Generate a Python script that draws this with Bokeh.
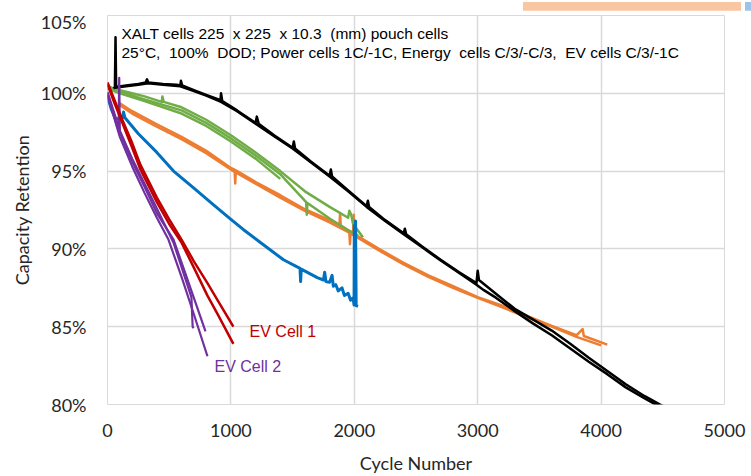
from bokeh.plotting import figure
from bokeh.models import Range1d, Label, PrintfTickFormatter, Div
from bokeh.layouts import column
from bokeh.embed import file_html
from bokeh.resources import INLINE

# ---------------- data (cycle number, capacity retention %) ----------------
black_a_x = [50, 60, 65, 70, 150, 250, 310, 320, 330, 450, 560, 590, 595, 605, 700, 800, 900, 915, 920, 930,
             1050, 1200, 1210, 1225, 1350, 1500, 1510, 1520, 1650, 1800, 1810, 1820, 1950, 2100, 2110, 2120,
             2250, 2400, 2410, 2420, 2550, 2700, 2850, 2990, 3000, 3010, 3150, 3300, 3450, 3600, 3750, 3900,
             4050, 4200, 4350, 4500, 4560]
black_a_y = [100.3, 100.4, 103.6, 100.4, 100.5, 100.6, 100.7, 100.9, 100.7, 100.6, 100.55, 100.5, 100.8, 100.5,
             100.2, 99.9, 99.6, 99.5, 100.0, 99.5, 98.9, 98.1, 98.5, 98.05, 97.3, 96.5, 96.9, 96.45, 95.6, 94.7,
             95.1, 94.65, 93.75, 92.75, 93.1, 92.7, 91.85, 91.0, 91.3, 90.95, 90.15, 89.3, 88.5, 87.8, 88.6, 88.0,
             87.1, 86.15, 85.45, 84.75, 83.9, 83.0, 82.15, 81.3, 80.55, 79.9, 79.6]
black_b_x = [60, 150, 250, 330, 450, 590, 700, 800, 920, 1050, 1200, 1350, 1500, 1650, 1800, 1950, 2100,
             2250, 2400, 2550, 2700, 2850, 2990, 3050, 3150, 3300, 3450, 3600, 3750, 3900, 4050, 4200, 4350,
             4500, 4560]
black_b_y = [100.35, 100.45, 100.55, 100.65, 100.55, 100.45, 100.15, 99.85, 99.45, 98.85, 98.05, 97.25, 96.45,
             95.55, 94.65, 93.7, 92.7, 91.8, 90.95, 90.1, 89.25, 88.45, 87.7, 87.35, 86.85, 86.0, 85.2, 84.45,
             83.6, 82.75, 81.95, 81.1, 80.4, 79.75, 79.5]

green1_x = [0, 100, 200, 300, 440, 445, 455, 600, 800, 1000, 1200, 1400, 1600, 1800, 1950, 1960, 1975, 1990,
            2070]
green1_y = [100.4, 100.2, 100.0, 99.8, 99.45, 99.8, 99.45, 99.1, 98.3, 97.3, 96.2, 95.0, 93.7, 92.7, 92.0,
            92.45, 92.2, 91.6, 90.75]
green2_x = [0, 100, 300, 600, 800, 1000, 1200, 1400, 1610, 1615, 1620, 1800, 1900, 1950, 2000, 2030]
green2_y = [100.5, 100.1, 99.6, 98.9, 98.1, 97.1, 96.0, 94.8, 93.0, 92.2, 92.95, 91.95, 91.45, 91.2, 91.0, 90.85]
green3_x = [0, 100, 300, 600, 800, 1000, 1200, 1400]
green3_y = [100.3, 100.0, 99.5, 98.7, 97.9, 96.9, 95.8, 94.5]

orange1_x = [90, 200, 400, 600, 800, 1000, 1030, 1035, 1040, 1200, 1400, 1600, 1800, 1880, 1885, 1890, 1990,
             1995, 2000, 2200, 2400, 2600, 2800, 3000, 3200, 3400, 3600, 3800, 3850, 3860, 4050]
orange1_y = [99.4, 98.85, 98.0, 97.2, 96.3, 95.2, 95.1, 94.2, 95.05, 94.3, 93.45, 92.55, 91.85, 91.55, 92.3,
             91.5, 91.0, 92.2, 90.95, 90.0, 89.1, 88.3, 87.6, 86.9, 86.35, 85.7, 85.05, 84.45, 84.85, 84.4, 83.85]
orange2_x = [90, 200, 400, 600, 800, 1000, 1200, 1400, 1600, 1800, 1960, 1965, 1970, 2000, 2200, 2400, 2600,
             2800, 3000, 3200, 3400, 3600, 3800, 4000]
orange2_y = [99.3, 98.7, 97.85, 97.05, 96.15, 95.1, 94.2, 93.3, 92.45, 91.7, 91.05, 90.3, 91.0, 90.85, 89.9,
             89.0, 88.2, 87.5, 86.85, 86.25, 85.6, 85.0, 84.35, 83.8]

blue_x = [0, 30, 65, 120, 130, 140, 250, 400, 535, 700, 850, 1000, 1100, 1250, 1426, 1560, 1565, 1570, 1700,
          1750, 1760, 1770, 1800, 1820, 1830, 1850, 1870, 1900, 1920, 1950, 1970, 1990, 1998, 2000, 2005,
          2010, 2015, 2030]
blue_y = [99.8, 99.0, 98.35, 98.4, 98.8, 98.45, 97.4, 96.2, 95.0, 93.9, 92.9, 91.9, 91.25, 90.35, 89.3, 88.75,
          87.9, 88.7, 88.15, 88.0, 88.5, 87.9, 87.85, 88.3, 87.6, 87.7, 87.3, 87.5, 87.0, 87.15, 86.7, 86.85,
          86.4, 91.5, 86.5, 91.8, 86.35, 86.3]

red1_x = [0, 50, 120, 200, 267, 400, 500, 600, 700, 810, 900, 1020]
red1_y = [100.7, 99.7, 98.3, 96.8, 95.4, 93.3, 91.9, 90.6, 89.2, 87.8, 86.6, 85.0]
red2_x = [0, 50, 120, 200, 267, 400, 500, 600, 700, 810, 900, 1020]
red2_y = [100.6, 99.5, 98.1, 96.5, 95.1, 93.0, 91.6, 90.4, 88.8, 87.0, 85.7, 83.9]

purple1_x = [0, 40, 100, 200, 300, 400, 535, 680, 690, 697]
purple1_y = [100.1, 99.1, 97.6, 95.8, 94.2, 92.6, 90.4, 86.9, 85.0, 84.9]
purple2_x = [0, 40, 90, 95, 100, 200, 300, 400, 535, 650, 794]
purple2_y = [100.0, 98.9, 97.6, 101.0, 97.5, 95.6, 94.0, 92.3, 90.6, 88.0, 84.7]
purple3_x = [0, 40, 100, 200, 300, 400, 494, 600, 700, 810]
purple3_y = [99.9, 98.8, 97.2, 95.3, 93.6, 92.0, 90.6, 88.2, 85.8, 83.1]

x_ticks = [0, 1000, 2000, 3000, 4000, 5000]
y_ticks = [80, 85, 90, 95, 100, 105]

NB = "\u00a0"
note_line1 = "XALT cells 225" + NB * 2 + "x 225" + NB * 2 + "x 10.3" + NB * 2 + "(mm) pouch cells"
note_line2 = ("25°C," + NB * 2 + "100%" + NB * 2 + "DOD; Power cells 1C/-1C, Energy" + NB * 2 +
              "cells C/3/-C/3," + NB * 2 + "EV cells C/3/-1C")

# ---------------- figure ----------------
p = figure(width=751, height=466, x_range=Range1d(0, 5000), y_range=Range1d(80, 105),
           output_backend="svg", toolbar_location=None,
           min_border_left=107, min_border_right=27, min_border_top=5, min_border_bottom=71)
p.title = None
p.background_fill_color = "white"
p.border_fill_color = "white"
p.outline_line_color = "#D9D9D9"
p.outline_line_width = 1

for ax in (p.xaxis, p.yaxis):
    ax.axis_line_color = None
    ax.major_tick_line_color = None
    ax.minor_tick_line_color = None
    ax.major_tick_out = 0
    ax.major_tick_in = 0
    ax.minor_tick_out = 0
    ax.minor_tick_in = 0
    ax.major_label_text_font = "Lato"
    ax.major_label_text_font_size = "18px"
    ax.major_label_text_color = "#262626"
    ax.axis_label_text_font = "Lato"
    ax.axis_label_text_font_size = "18px"
    ax.axis_label_text_font_style = "normal"
    ax.axis_label_text_color = "#262626"

p.xaxis.ticker = x_ticks
p.yaxis.ticker = y_ticks
p.yaxis.formatter = PrintfTickFormatter(format="%d%%")
p.xaxis.major_label_standoff = 19
p.yaxis.major_label_standoff = 21
p.xaxis.axis_label = "Cycle Number"
p.yaxis.axis_label = "Capacity Retention"
p.xaxis.axis_label_standoff = 12
p.yaxis.axis_label_standoff = 5

p.xgrid.grid_line_color = "#D9D9D9"
p.ygrid.grid_line_color = "#D9D9D9"
p.xgrid.grid_line_width = 1.5
p.ygrid.grid_line_width = 1.5

series = [
    (orange1_x, orange1_y, "#ED7D31", 2.5),
    (orange2_x, orange2_y, "#ED7D31", 2.5),
    (green3_x, green3_y, "#70AD47", 2.5),
    (green2_x, green2_y, "#70AD47", 2.5),
    (green1_x, green1_y, "#70AD47", 2.5),
    (blue_x, blue_y, "#0070C0", 3),
    (black_b_x, black_b_y, "#000000", 2.5),
    (black_a_x, black_a_y, "#000000", 2.5),
    (purple3_x, purple3_y, "#7030A0", 2.2),
    (purple2_x, purple2_y, "#7030A0", 2.2),
    (purple1_x, purple1_y, "#7030A0", 2.2),
    (red2_x, red2_y, "#C00000", 2.5),
    (red1_x, red1_y, "#C00000", 2.5),
]
for xs, ys, c, w in series:
    p.line(xs, ys, line_color=c, line_width=w, line_join="round")

p.add_layout(Label(x=113, y=103.85, text=note_line1, text_font="Liberation Sans",
                   text_font_size="15.5px", text_baseline="middle", text_color="#000000"))
p.add_layout(Label(x=113, y=102.62, text=note_line2, text_font="Liberation Sans",
                   text_font_size="15.5px", text_baseline="middle", text_color="#000000"))
p.add_layout(Label(x=1151, y=84.71, text="EV Cell 1", text_font="Liberation Sans",
                   text_font_size="16px", text_baseline="middle", text_color="#C00000"))
p.add_layout(Label(x=867, y=82.44, text="EV Cell 2", text_font="Liberation Sans",
                   text_font_size="16px", text_baseline="middle", text_color="#7030A0"))

# decorative strips at the top-right edge of the picture
top_strip = Div(text='<div style="position:relative;width:751px;height:10px;">'
                     '<div style="position:absolute;left:523px;top:0;width:218px;height:10px;background:#F8C6A0;"></div>'
                     '<div style="position:absolute;left:745px;top:0;width:6px;height:10px;background:#9DC3E6;"></div>'
                     '</div>', width=751, height=10, margin=0)

layout = column(top_strip, p, spacing=0)
open("out.html", "w").write(file_html(layout, INLINE))
